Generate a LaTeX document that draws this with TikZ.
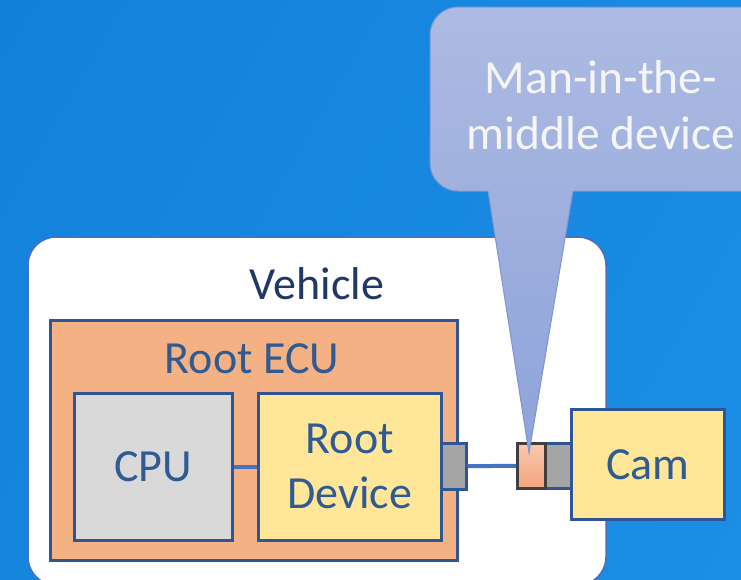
\documentclass[tikz,border=0pt]{standalone}
\usepackage{fontspec}
\setmainfont{Carlito}
\usetikzlibrary{calc}

\definecolor{bgblue}{HTML}{1180D9}
\definecolor{bgblueL}{HTML}{1D8FE6}
\definecolor{edgeblue}{HTML}{2F5597}
\definecolor{vehedge}{HTML}{4A6FC0}
\definecolor{navy}{HTML}{203864}
\definecolor{txtblue}{HTML}{2F5A92}
\definecolor{ecuorange}{HTML}{F4B183}
\definecolor{cpugray}{HTML}{D9D9D9}
\definecolor{devyellow}{HTML}{FFE699}
\definecolor{portgray}{HTML}{A5A5A5}
\definecolor{linkblue}{HTML}{4472C4}
\definecolor{calloutTop}{HTML}{ADBBE2}
\definecolor{calloutBot}{HTML}{8EA3DA}
\definecolor{calloutEdge}{HTML}{7F96D0}
\definecolor{mitmTop}{HTML}{F9C9AE}
\definecolor{mitmBot}{HTML}{F4A47F}

\tikzset{
  box/.style={draw=edgeblue, line width=2.5pt, anchor=north west, inner sep=0pt,
    minimum width=#1},
  boxtext/.style={font=\fontsize{46}{55}\selectfont, text=txtblue, align=center},
  link/.style={draw=linkblue, line width=4pt},
}

\begin{document}
\begin{tikzpicture}[x=1pt, y=-1pt]
  \useasboundingbox (0,0) rectangle (741,579);
  \clip (0,0) rectangle (741,579);

  % backdrop, a little lighter towards the lower right
  \shade[left color=bgblue, right color=bgblueL, shading angle=60] (-200,-200) rectangle (941,779);

  % vehicle frame
  \draw[draw=vehedge, line width=1.5pt, fill=white, rounded corners=28pt]
    (28,237) rectangle (606,585);
  \node[font=\fontsize{46}{55}\selectfont, text=navy] (vehicle) at (317,284) {Vehicle};

  % root ECU
  \node[box=407pt, minimum height=240pt, fill=ecuorange] (ecu) at (49,319) {};
  \node[boxtext] (ecutitle) at (252,359) {Root ECU};

  \node[box=158pt, minimum height=147pt, fill=cpugray] (cpu) at (73,392) {};
  \node[boxtext] (cputext) at (cpu.center) {CPU};

  \node[box=183pt, minimum height=147pt, fill=devyellow] (rootdev) at (257,392) {};
  \node[boxtext] (rootdevtext) at (rootdev.center) {Root\\Device};

  % ports and camera
  \node[box=25pt, minimum height=46pt, fill=portgray] (portL) at (440,442) {};
  \node[box=153pt, minimum height=110pt, fill=devyellow] (cam) at (570,408) {};
  \node[boxtext] (camtext) at (cam.center) {Cam};
  \node[box=26pt, minimum height=45pt, fill=portgray] (portR) at (544,442) {};
  \node[draw=black!75, line width=2.5pt, anchor=north west, inner sep=0pt,
        minimum width=28pt, minimum height=45pt,
        top color=mitmTop, bottom color=mitmBot] (mitm) at (516,442) {};

  % links
  \draw[link] (cpu.east) -- (rootdev.west);
  \draw[link] (portL.east) -- (mitm.west);

  % callout
  \coordinate (tip) at (529,453);
  \path[top color=calloutTop, bottom color=calloutBot, draw=calloutEdge, line width=1pt]
    (573,191) -- (tip) -- (488,191)
    [rounded corners=28pt] -- (430,191) -- (430,7) -- (772,7) -- (772,191)
    [sharp corners] -- cycle;
  \node[font=\fontsize{47.5}{56}\selectfont, text=white!96!black, align=center]
    (callouttext) at (601,105) {Man-in-the-\\middle device};
\end{tikzpicture}
\end{document}
